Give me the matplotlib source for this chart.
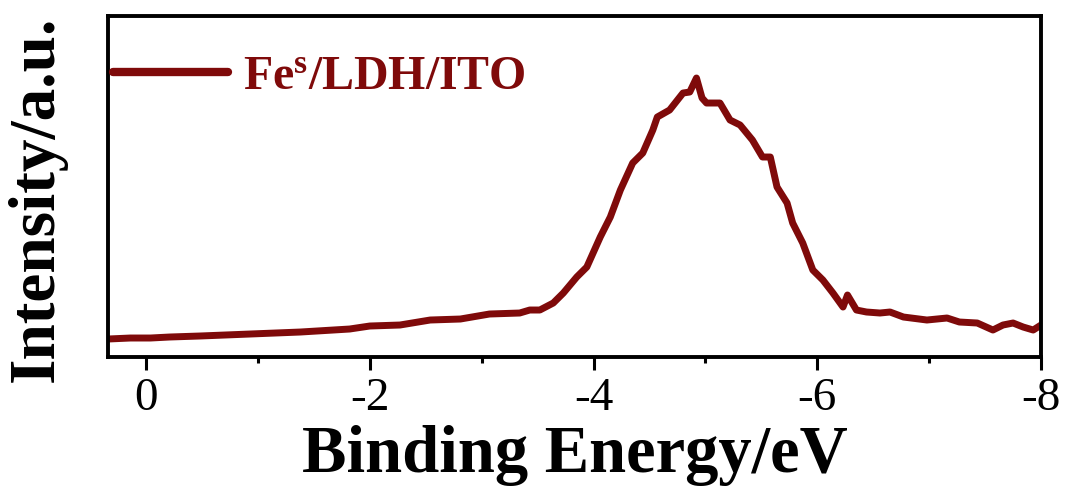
import matplotlib
matplotlib.use("Agg")
import matplotlib.pyplot as plt
from matplotlib.ticker import MultipleLocator

# Binding energy (eV) and intensity (a.u.)
energy = [0.34, 0.14, -0.04, -0.21, -0.48, -0.93, -1.38, -1.82, -2.00, -2.27,
          -2.54, -2.81, -3.07, -3.34, -3.43, -3.52, -3.64, -3.73, -3.85, -3.94,
          -4.06, -4.15, -4.24, -4.35, -4.44, -4.53, -4.57, -4.68, -4.80, -4.86,
          -4.92, -4.97, -5.01, -5.13, -5.22, -5.31, -5.42, -5.51, -5.58, -5.64,
          -5.73, -5.78, -5.87, -5.96, -6.05, -6.14, -6.23, -6.27, -6.35, -6.44,
          -6.56, -6.65, -6.77, -6.98, -7.16, -7.27, -7.43, -7.57, -7.66, -7.75,
          -7.84, -7.93, -8.00]
intensity = [18, 19, 19, 20, 21, 23, 25, 28, 31, 32,
             37, 38, 43, 44, 47, 47, 54, 64, 80, 90,
             120, 140, 167, 194, 204, 227, 240, 247, 264, 265,
             279, 259, 254, 254, 237, 232, 217, 200, 200, 170,
             154, 134, 114, 87, 77, 64, 50, 62, 47, 45,
             44, 45, 40, 37, 39, 35, 34, 27, 32, 34,
             30, 27, 32]
xticks = [0, -2, -4, -6, -8]
xticklabels = ["0", "-2", "-4", "-6", "-8"]
series_label = r"Fe$^{\mathbf{s}}$/LDH/ITO"

plt.rcParams['font.family'] = ['Liberation Serif', 'DejaVu Serif']
plt.rcParams['mathtext.fontset'] = 'custom'
plt.rcParams['mathtext.rm'] = 'Liberation Serif:bold'
plt.rcParams['mathtext.bf'] = 'Liberation Serif:bold'
plt.rcParams['mathtext.it'] = 'Liberation Serif:bold'

color = '#7f0a0a'
fig = plt.figure(figsize=(10.65, 4.9), dpi=100)
ax = fig.add_axes([0.1014, 0.2714, 0.8761, 0.6959])
ax.plot(energy, intensity, color=color, lw=5.0, label=series_label,
        solid_joinstyle='round', solid_capstyle='round')
ax.set_xlim(0.34, -8)
ax.set_ylim(0, 341)
ax.set_xticks(xticks)
ax.set_xticklabels(xticklabels)
ax.xaxis.set_minor_locator(MultipleLocator(1))
ax.set_yticks([])
for s in ax.spines.values():
    s.set_linewidth(2.8)
ax.tick_params(axis='x', which='major', direction='out', length=9, width=2.2,
               labelsize=34, pad=6, top=False)
ax.tick_params(axis='x', which='minor', direction='out', length=4.5, width=2.2, top=False)
ax.set_xlabel("Binding Energy/eV", fontsize=48, fontweight='bold')
ax.xaxis.set_label_coords(0.5, -0.20)
ax.set_ylabel("Intensity/a.u.", fontsize=47, fontweight='bold')
ax.yaxis.set_label_coords(-0.044, 0.463)
leg = ax.legend(loc='center left', bbox_to_anchor=(0.0054, 0.821), frameon=False,
                handlelength=2.4, handletextpad=0.31, borderaxespad=0.0, borderpad=0.0,
                prop={'size': 34.5, 'weight': 'bold'})
for t in leg.get_texts():
    t.set_color(color)
for ln in leg.get_lines():
    ln.set_linewidth(6)
fig.savefig("out.png", dpi=100)
